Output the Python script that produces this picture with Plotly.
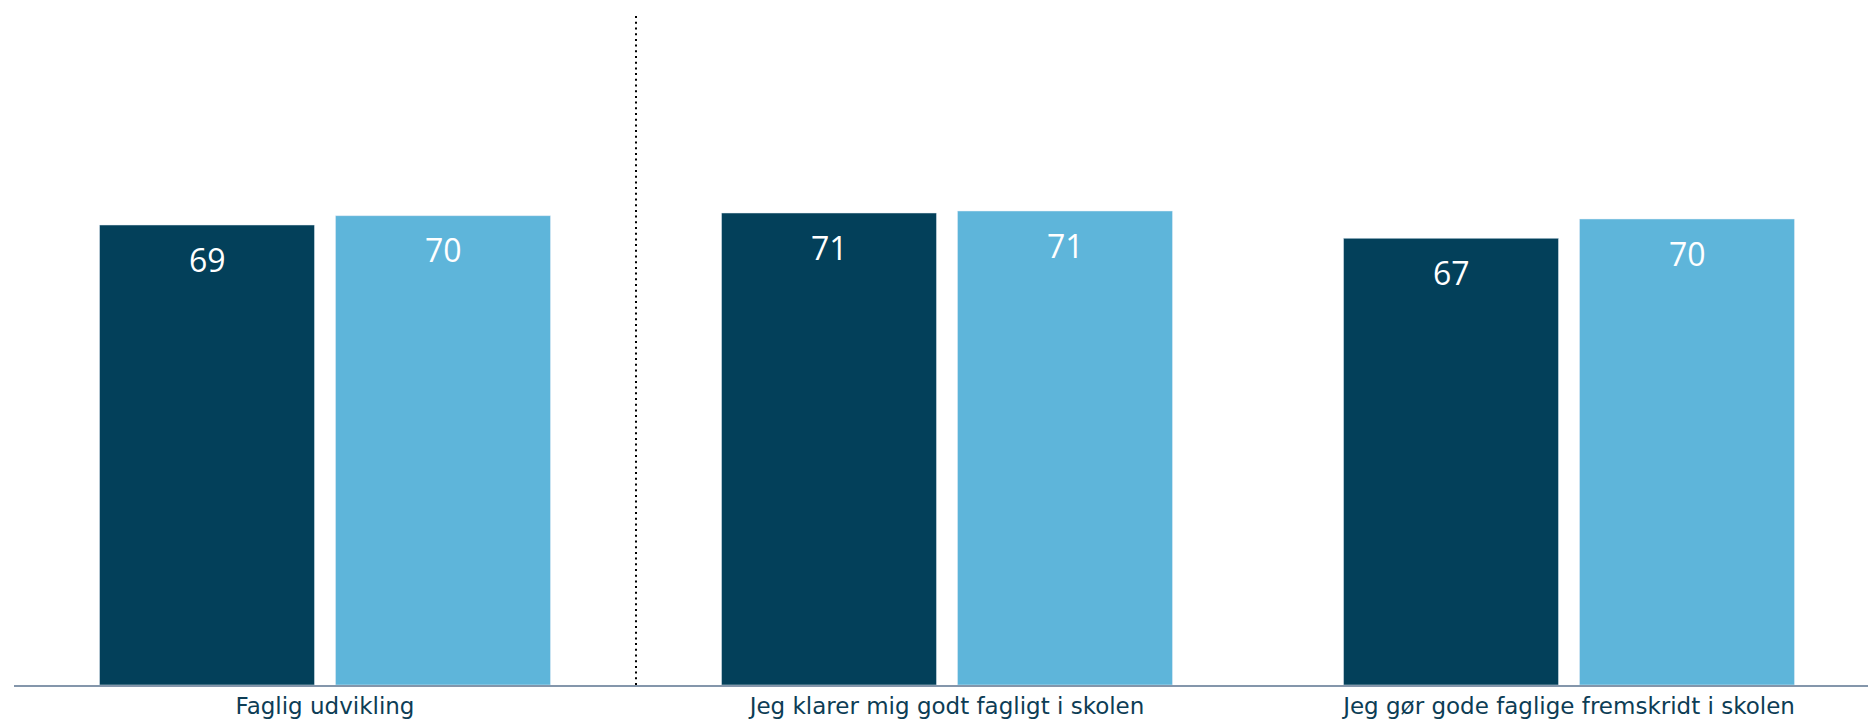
import plotly.graph_objects as go

categories = ["Faglig udvikling", "Jeg klarer mig godt fagligt i skolen", "Jeg gør gode faglige fremskridt i skolen"]
series_a = [69.0, 70.8, 67.0]
series_b = [70.4, 71.1, 69.9]
labels_a = [f"{v:.0f}" for v in series_a]
labels_b = [f"{v:.0f}" for v in series_b]

dark = "#03405A"
light = "#5EB5DA"
text_col = "#0D3D55"

fig = go.Figure()
fig.add_trace(go.Bar(x=categories, y=series_a, marker_color=dark, name="A", hoverinfo="skip"))
fig.add_trace(go.Bar(x=categories, y=series_b, marker_color=light, name="B", hoverinfo="skip"))

annotations = []
for cat, v, t in zip(categories, series_a, labels_a):
    annotations.append(dict(x=cat, y=v, text=t, xref="x", yref="y", showarrow=False,
                            xshift=-118, yshift=-34, yanchor="middle",
                            font=dict(family="Open Sans", size=32, color="white")))
for cat, v, t in zip(categories, series_b, labels_b):
    annotations.append(dict(x=cat, y=v, text=t, xref="x", yref="y", showarrow=False,
                            xshift=118, yshift=-34, yanchor="middle",
                            font=dict(family="Open Sans", size=32, color="white")))

fig.update_layout(
    width=1868, height=724,
    margin=dict(l=14, r=0, t=15, b=39),
    paper_bgcolor="white", plot_bgcolor="white",
    barmode="group", bargap=0.2412, bargroupgap=0.089,
    showlegend=False,
    annotations=annotations,
    shapes=[dict(type="line", xref="x", yref="paper", x0=0.5, x1=0.5, y0=0, y1=1,
                 line=dict(color="black", width=2, dash="2px,3.7px"))],
    xaxis=dict(range=[-0.5, 2.4807], showgrid=False, zeroline=False,
               showline=True, linecolor="#8496AB", linewidth=1.5,
               ticks="", tickfont=dict(family="DejaVu Sans", size=23, color=text_col)),
    yaxis=dict(range=[0, 100.5], visible=False, showgrid=False, zeroline=False),
)

fig.write_html("out.html", config={"displayModeBar": False},
               post_script="document.body.style.margin='0';document.body.style.overflow='hidden';")
